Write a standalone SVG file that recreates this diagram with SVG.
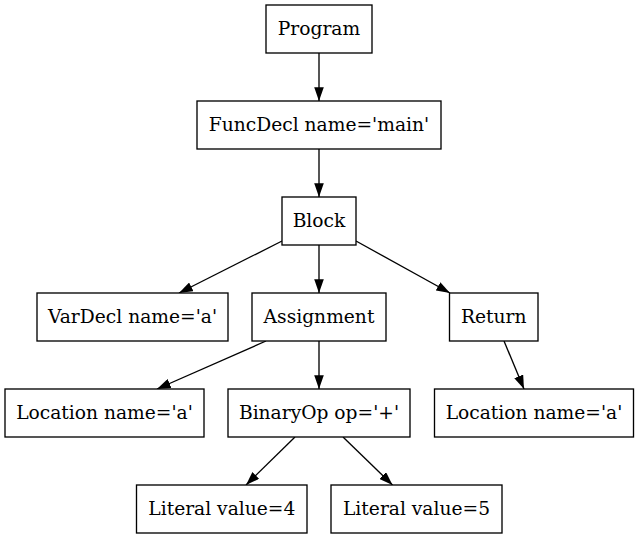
<svg xmlns="http://www.w3.org/2000/svg" width="639" height="539" viewBox="0 0 639 539">
<style>
rect{fill:#fff;stroke:#000;stroke-width:1.33}
text{font-family:"DejaVu Serif",serif;font-size:18.67px;text-anchor:middle;fill:#000}
.e line{stroke:#000;stroke-width:1.33;marker-end:url(#ah)}
</style>
<defs>
<marker id="ah" viewBox="0 0 10 7" refX="10" refY="3.5" markerWidth="13.7" markerHeight="9.6" markerUnits="userSpaceOnUse" orient="auto">
<path d="M0,0 L10,3.5 L0,7 z" fill="#000"/>
</marker>
</defs>
<rect x="0" y="0" width="639" height="539" style="stroke:none"/>
<g class="e" id="edges">
<line x1="319" y1="53" x2="319" y2="101"/>
<line x1="319" y1="149" x2="319" y2="197"/>
<line x1="282" y1="241" x2="179" y2="293"/>
<line x1="319" y1="245" x2="319" y2="293"/>
<line x1="356" y1="241" x2="450" y2="293"/>
<line x1="266" y1="341" x2="157" y2="389"/>
<line x1="319" y1="341" x2="319" y2="389"/>
<line x1="504" y1="341" x2="524" y2="389"/>
<line x1="295" y1="437" x2="246" y2="485"/>
<line x1="343" y1="437" x2="392.5" y2="485"/>
</g>
<g id="program"><rect x="266" y="5" width="106" height="48"/><text x="319" y="34.7">Program</text></g>
<g id="funcdecl"><rect x="197" y="101" width="244" height="48"/><text x="319" y="130.7">FuncDecl name='main'</text></g>
<g id="block"><rect x="282" y="197" width="74" height="48"/><text x="319" y="226.7">Block</text></g>
<g id="vardecl"><rect x="37" y="293" width="191" height="48"/><text x="132.5" y="322.7">VarDecl name='a'</text></g>
<g id="assignment"><rect x="252" y="293" width="134" height="48"/><text x="319" y="322.7">Assignment</text></g>
<g id="return"><rect x="449.5" y="293" width="88.5" height="48"/><text x="493.8" y="322.7">Return</text></g>
<g id="location1"><rect x="5" y="389" width="199" height="48"/><text x="104.5" y="418.7">Location name='a'</text></g>
<g id="binaryop"><rect x="228" y="389" width="182" height="48"/><text x="319" y="418.7">BinaryOp op='+'</text></g>
<g id="location2"><rect x="434.5" y="389" width="199" height="48"/><text x="534" y="418.7">Location name='a'</text></g>
<g id="literal4"><rect x="136.5" y="485" width="170.5" height="48"/><text x="221.8" y="514.7">Literal value=4</text></g>
<g id="literal5"><rect x="331" y="485" width="171" height="48"/><text x="416.5" y="514.7">Literal value=5</text></g>
</svg>
